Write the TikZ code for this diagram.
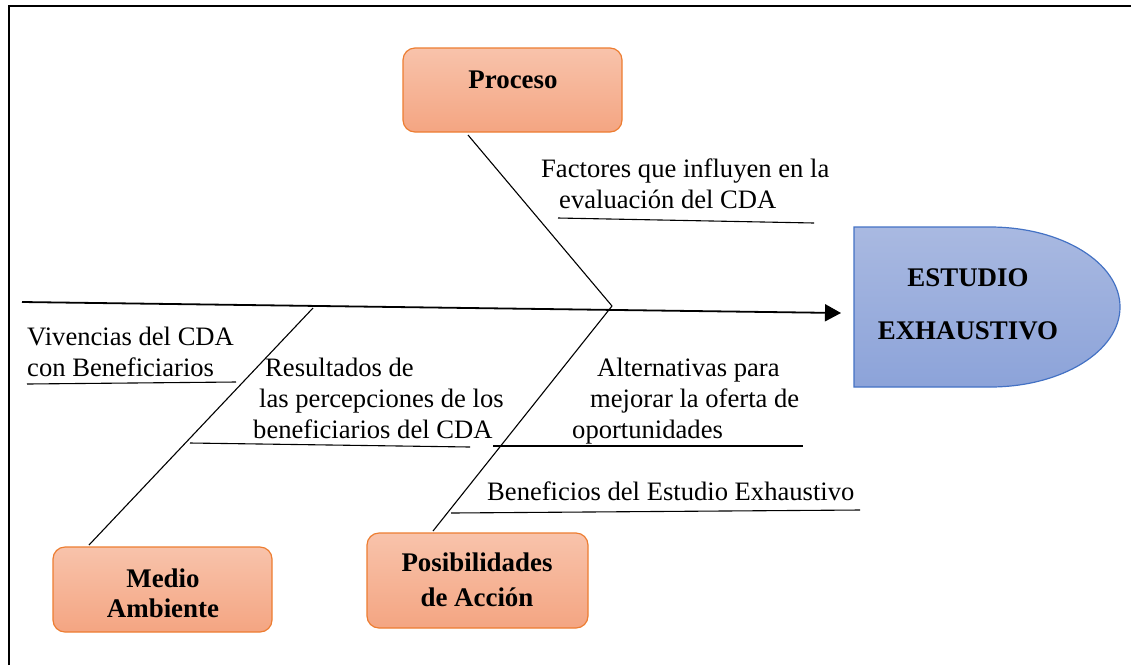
\documentclass[tikz,border=0pt]{standalone}
\usepackage{fontspec}
\setmainfont{Liberation Serif}
\usetikzlibrary{arrows.meta}
\definecolor{orfillT}{HTML}{F8C3AB}
\definecolor{orfillB}{HTML}{F4A582}
\definecolor{ordraw}{HTML}{ED7D31}
\definecolor{blfillT}{HTML}{A9B9E1}
\definecolor{blfillB}{HTML}{8CA3D9}
\definecolor{bldraw}{HTML}{4472C4}
\tikzset{
  catbox/.style={draw=ordraw, line width=1.2pt, rounded corners=12pt, top color=orfillT, bottom color=orfillB, inner sep=0pt},
  boxtxt/.style={font=\fontsize{26.9}{31}\selectfont\bfseries, align=center, inner sep=0pt},
  lbl/.style={anchor=base west, inner sep=0pt, font=\fontsize{26.6}{31}\selectfont},
  bone/.style={line width=1.1pt},
  subline/.style={line width=1.1pt},
  frameline/.style={line width=1.5pt}
}
\begin{document}
\begin{tikzpicture}[x=1pt,y=-1pt]
\useasboundingbox (0,0) rectangle (1131,665);
% frame
\draw[frameline] (9,665) -- (9,6) -- (1131,6);
% category boxes
\node[catbox, minimum width=219pt, minimum height=84pt] (proc) at (512.5,90) {};
\node[boxtxt] (proct) at (513,80) {Proceso};
\node[catbox, minimum width=219pt, minimum height=85pt] (medio) at (162.5,589.5) {};
\node[boxtxt] (mediot) at (163,593) {Medio\\[-1pt]Ambiente};
\node[catbox, minimum width=221pt, minimum height=95pt] (posib) at (477.5,580.5) {};
\node[boxtxt] (posibt) at (477,580) {Posibilidades\\[4pt]de Acción};
% effect shape
\draw[draw=bldraw, line width=1.2pt, top color=blfillT, bottom color=blfillB]
  (854,227) -- (990,227) arc[start angle=-90, end angle=90, x radius=130, y radius=80] -- (854,387) -- cycle;
\node[boxtxt] (eff) at (968,304) {ESTUDIO\\[22pt]EXHAUSTIVO};
% spine
\coordinate (tail) at (22,302);
\coordinate (head) at (841,313);
\coordinate (j) at (612,306);
\draw[line width=1.8pt, -{Triangle[length=16pt,width=17pt]}] (tail) -- (head);
% bones
\coordinate (pb) at (468,135);
\coordinate (ab) at (433,531);
\coordinate (mt) at (313,308);
\coordinate (mb) at (89,545);
\draw[bone] (pb) -- (j);
\draw[bone] (j) -- (ab);
\draw[bone] (mt) -- (mb);
% sub lines
\coordinate (f1) at (558,218); \coordinate (f2) at (814,223);
\coordinate (v1) at (27,384); \coordinate (v2) at (236,382);
\coordinate (r1) at (190,443); \coordinate (r2) at (470,447);
\coordinate (a1) at (493,446); \coordinate (a2) at (803,446);
\coordinate (b1) at (451,513); \coordinate (b2) at (860,510);
\draw[subline] (f1) -- (f2);
\draw[subline] (v1) -- (v2);
\draw[subline] (r1) -- (r2);
\draw[subline] (a1) -- (a2);
\draw[subline] (b1) -- (b2);
% labels
\node[lbl] (fa) at (541,177) {Factores que influyen en la};
\node[lbl] (fb) at (559,208) {evaluación del CDA};
\node[lbl] (va) at (27,345) {Vivencias del CDA};
\node[lbl] (vb) at (27,376) {con Beneficiarios};
\node[lbl] (ra) at (265,376) {Resultados de};
\node[lbl] (rb) at (259,407) {las percepciones de los};
\node[lbl] (rc) at (253,438) {beneficiarios del CDA};
\node[lbl] (aa) at (597,376) {Alternativas para};
\node[lbl] (ab2) at (590,407) {mejorar la oferta de};
\node[lbl] (ac) at (572,438) {oportunidades};
\node[lbl] (be) at (487,500) {Beneficios del Estudio Exhaustivo};
\end{tikzpicture}
\end{document}
